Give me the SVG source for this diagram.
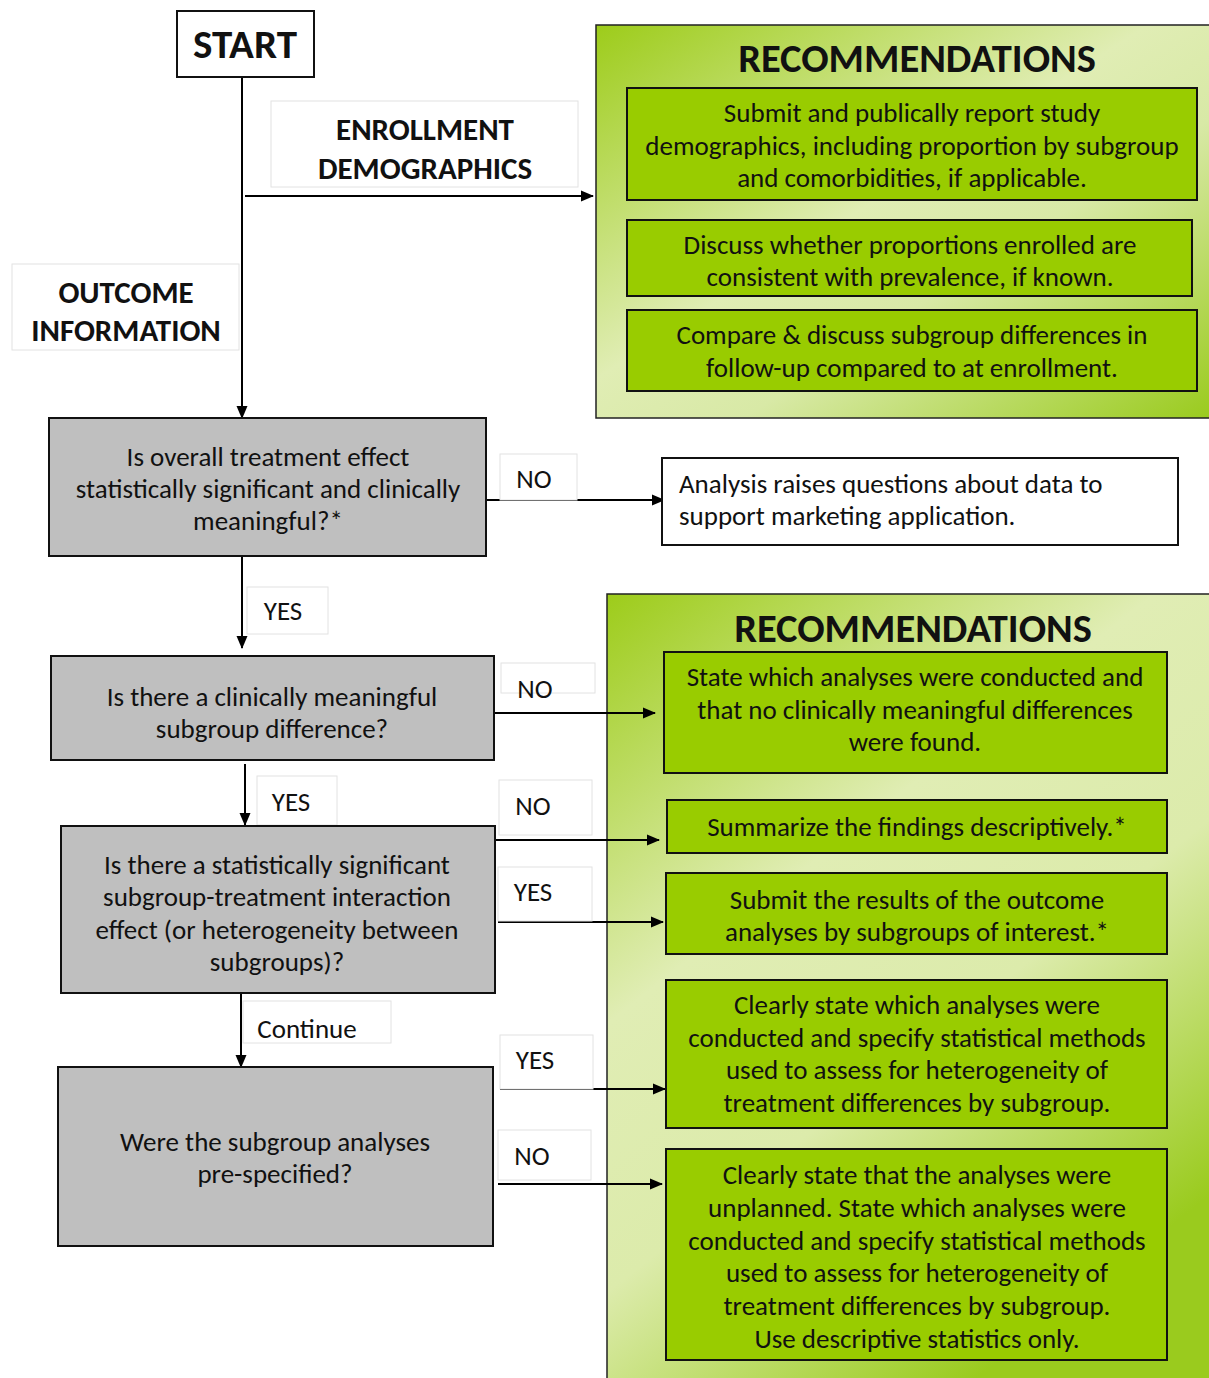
<svg xmlns="http://www.w3.org/2000/svg" width="1209" height="1378" viewBox="0 0 1209 1378">
<defs>
<linearGradient id="pg" x1="0" y1="0" x2="1" y2="1">
<stop offset="0" stop-color="#9dcc1a"/>
<stop offset="0.45" stop-color="#e0edb4"/>
<stop offset="0.62" stop-color="#d8e9a6"/>
<stop offset="1" stop-color="#9acb1e"/>
</linearGradient>
<linearGradient id="pg2" x1="0" y1="0" x2="0.6" y2="1">
<stop offset="0" stop-color="#9dcc1a"/>
<stop offset="0.4" stop-color="#e0edb4"/>
<stop offset="0.65" stop-color="#dcebab"/>
<stop offset="1" stop-color="#9acb1e"/>
</linearGradient>
<marker id="ah" markerWidth="13" markerHeight="13" viewBox="0 0 13 13" refX="12" refY="6.5" orient="auto" markerUnits="userSpaceOnUse">
<path d="M0,1 L13,6.5 L0,12 Z" fill="#000"/>
</marker>
</defs>
<style>
.t{font-family:Carlito,"Liberation Sans",Arial,sans-serif;font-size:27px;fill:#111;text-anchor:middle}
.s{text-anchor:start}
.lb{font-family:Carlito,"Liberation Sans",Arial,sans-serif;font-weight:bold;font-size:31px;fill:#111;text-anchor:middle}
.h{font-family:Carlito,"Liberation Sans",Arial,sans-serif;font-weight:bold;font-size:40.5px;fill:#111;text-anchor:middle}
.lbl{fill:#fff;stroke:#e2e2e2;stroke-width:1}
.gray{fill:#bfbfbf;stroke:#111;stroke-width:2}
.grn{fill:#99cc00;stroke:#111;stroke-width:2}
.wht{fill:#fff;stroke:#111;stroke-width:2}
.pan{stroke:#222;stroke-width:1.5}
.c{stroke:#000;stroke-width:2;fill:none}
</style>
<rect width="1209" height="1378" fill="#fff"/>

<g id="panel1">
<rect class="pan" x="596" y="25" width="614" height="393" fill="url(#pg)"/>
<text class="h" x="917" y="72">RECOMMENDATIONS</text>
</g>
<g id="panel2">
<rect class="pan" x="607" y="594" width="604" height="790" fill="url(#pg2)"/>
<text class="h" x="913" y="642">RECOMMENDATIONS</text>
</g>

<g id="connectors">
<line class="c" x1="242" y1="77" x2="242" y2="418" marker-end="url(#ah)"/>
<line class="c" x1="245" y1="196" x2="593" y2="196" marker-end="url(#ah)"/>
<line class="c" x1="486" y1="500" x2="664" y2="500" marker-end="url(#ah)"/>
<line class="c" x1="242" y1="556" x2="242" y2="648" marker-end="url(#ah)"/>
<line class="c" x1="492" y1="713" x2="655" y2="713" marker-end="url(#ah)"/>
<line class="c" x1="245" y1="764" x2="245" y2="825" marker-end="url(#ah)"/>
<line class="c" x1="495" y1="840" x2="659" y2="840" marker-end="url(#ah)"/>
<line class="c" x1="498" y1="922" x2="663" y2="922" marker-end="url(#ah)"/>
<line class="c" x1="241" y1="993" x2="241" y2="1067" marker-end="url(#ah)"/>
<line class="c" x1="500" y1="1089" x2="665" y2="1089" marker-end="url(#ah)"/>
<line class="c" x1="498" y1="1184" x2="662" y2="1184" marker-end="url(#ah)"/>
</g>

<g id="start">
<rect class="wht" x="177" y="11" width="137" height="66"/>
<text class="h" x="245" y="58" style="font-size:41px">START</text>
</g>
<g id="lbl-enroll">
<rect class="lbl" x="271" y="101" width="307" height="86"/>
<text class="lb" x="425" y="140">ENROLLMENT</text>
<text class="lb" x="425" y="179">DEMOGRAPHICS</text>
</g>
<g id="lbl-outcome">
<rect class="lbl" x="12" y="264" width="227" height="86"/>
<text class="lb" x="126" y="303">OUTCOME</text>
<text class="lb" x="126" y="341">INFORMATION</text>
</g>

<g id="rec1">
<rect class="grn" x="627" y="88" width="570" height="112"/>
<text class="t" x="912" y="122">Submit and publically report study</text>
<text class="t" x="912" y="155">demographics, including proportion by subgroup</text>
<text class="t" x="912" y="187">and comorbidities, if applicable.</text>
</g>
<g id="rec2">
<rect class="grn" x="627" y="220" width="565" height="76"/>
<text class="t" x="910" y="254">Discuss whether proportions enrolled are</text>
<text class="t" x="910" y="286">consistent with prevalence, if known.</text>
</g>
<g id="rec3">
<rect class="grn" x="627" y="310" width="570" height="81"/>
<text class="t" x="912" y="344">Compare &amp; discuss subgroup differences in</text>
<text class="t" x="912" y="377">follow-up compared to at enrollment.</text>
</g>

<g id="q1">
<rect class="gray" x="49" y="418" width="437" height="138"/>
<text class="t" x="268" y="466">Is overall treatment effect</text>
<text class="t" x="268" y="498">statistically significant and clinically</text>
<text class="t" x="268" y="530">meaningful?*</text>
</g>
<g id="lbl-no1">
<rect class="lbl" x="500" y="454" width="77" height="46"/>
<text class="t" x="534" y="488">NO</text>
</g>
<g id="analysis">
<rect class="wht" x="662" y="458" width="516" height="87"/>
<text class="t s" x="679" y="493">Analysis raises questions about data to</text>
<text class="t s" x="679" y="525">support marketing application.</text>
</g>

<g id="lbl-yes1">
<rect class="lbl" x="247" y="587" width="81" height="47"/>
<text class="t" x="283" y="620">YES</text>
</g>

<g id="q2">
<rect class="gray" x="51" y="656" width="443" height="104"/>
<text class="t" x="272" y="706">Is there a clinically meaningful</text>
<text class="t" x="272" y="738">subgroup difference?</text>
</g>
<g id="lbl-no2">
<rect class="lbl" x="501" y="663" width="94" height="30"/>
<text class="t" x="535" y="698">NO</text>
</g>
<g id="rec4">
<rect class="grn" x="664" y="652" width="503" height="121"/>
<text class="t" x="915" y="686">State which analyses were conducted and</text>
<text class="t" x="915" y="719">that no clinically meaningful differences</text>
<text class="t" x="915" y="751">were found.</text>
</g>

<g id="lbl-yes2">
<rect class="lbl" x="257" y="776" width="80" height="49"/>
<text class="t" x="291" y="811">YES</text>
</g>
<g id="lbl-no3">
<rect class="lbl" x="499" y="780" width="93" height="55"/>
<text class="t" x="533" y="815">NO</text>
</g>
<g id="rec5">
<rect class="grn" x="667" y="800" width="500" height="53"/>
<text class="t" x="917" y="836">Summarize the findings descriptively.*</text>
</g>

<g id="q3">
<rect class="gray" x="61" y="826" width="434" height="167"/>
<text class="t" x="277" y="874">Is there a statistically significant</text>
<text class="t" x="277" y="906">subgroup-treatment interaction</text>
<text class="t" x="277" y="939">effect (or heterogeneity between</text>
<text class="t" x="277" y="971">subgroups)?</text>
</g>
<g id="lbl-yes3">
<rect class="lbl" x="498" y="867" width="94" height="54"/>
<text class="t" x="533" y="901">YES</text>
</g>
<g id="rec6">
<rect class="grn" x="666" y="873" width="501" height="81"/>
<text class="t" x="917" y="909">Submit the results of the outcome</text>
<text class="t" x="917" y="941">analyses by subgroups of interest.*</text>
</g>

<g id="lbl-continue">
<rect class="lbl" x="243" y="1001" width="148" height="42"/>
<text class="t" x="307" y="1038">Continue</text>
</g>

<g id="q4">
<rect class="gray" x="58" y="1067" width="435" height="179"/>
<text class="t" x="275" y="1151">Were the subgroup analyses</text>
<text class="t" x="275" y="1183">pre-specified?</text>
</g>
<g id="lbl-yes4">
<rect class="lbl" x="500" y="1035" width="93" height="54"/>
<text class="t" x="535" y="1069">YES</text>
</g>
<g id="rec7">
<rect class="grn" x="666" y="980" width="501" height="148"/>
<text class="t" x="917" y="1014">Clearly state which analyses were</text>
<text class="t" x="917" y="1047">conducted and specify statistical methods</text>
<text class="t" x="917" y="1079">used to assess for heterogeneity of</text>
<text class="t" x="917" y="1112">treatment differences by subgroup.</text>
</g>
<g id="lbl-no4">
<rect class="lbl" x="498" y="1130" width="93" height="50"/>
<text class="t" x="532" y="1165">NO</text>
</g>
<g id="rec8">
<rect class="grn" x="666" y="1149" width="501" height="211"/>
<text class="t" x="917" y="1184">Clearly state that the analyses were</text>
<text class="t" x="917" y="1217">unplanned. State which analyses were</text>
<text class="t" x="917" y="1250">conducted and specify statistical methods</text>
<text class="t" x="917" y="1282">used to assess for heterogeneity of</text>
<text class="t" x="917" y="1315">treatment differences by subgroup.</text>
<text class="t" x="917" y="1348">Use descriptive statistics only.</text>
</g>
</svg>
